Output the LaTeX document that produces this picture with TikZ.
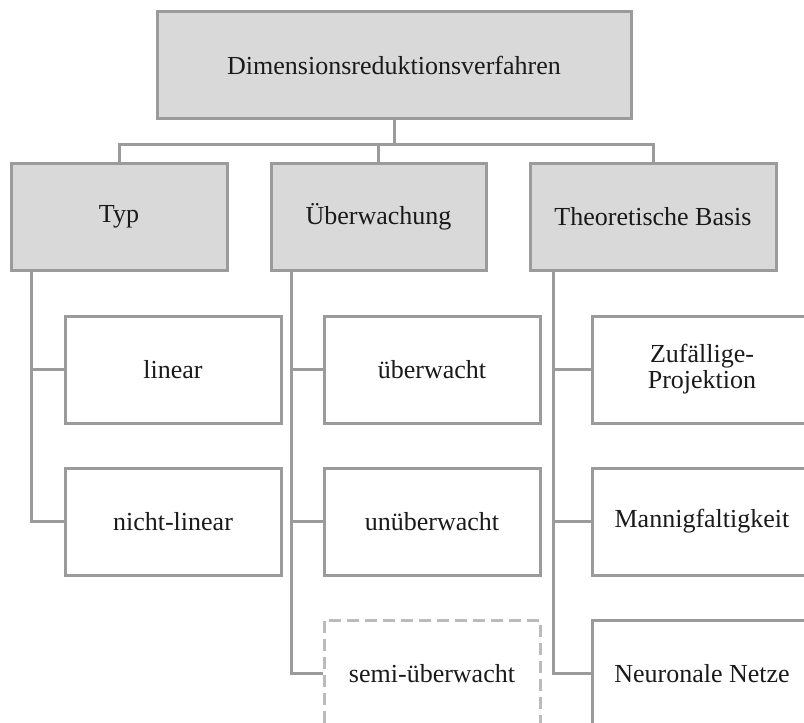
\documentclass[tikz,border=0pt]{standalone}
\usepackage{fontspec}
\setmainfont{Liberation Serif}
\usetikzlibrary{calc}
\definecolor{boxline}{HTML}{9B9B9B}
\definecolor{boxfill}{HTML}{D9D9D9}
\definecolor{dashline}{HTML}{BBBBBB}
\definecolor{txt}{HTML}{1A1A1A}
\begin{document}
\begin{tikzpicture}[x=1pt,y=-1pt,
  every node/.style={font=\fontsize{26}{26}\selectfont, text=txt, align=center, inner sep=0pt},
  headbox/.style={draw=boxline, fill=boxfill, line width=3pt, minimum height=107pt},
  leafbox/.style={draw=boxline, fill=white, line width=3pt, minimum width=216pt, minimum height=107pt},
  openbox/.style={draw=dashline, fill=white, line width=3pt, dash pattern=on 12pt off 6pt, minimum width=216pt, minimum height=107pt},
  link/.style={draw=boxline, line width=3pt}]
\useasboundingbox (0,0) rectangle (804,723);
\clip (0,0) rectangle (804,723);

% root and the three criteria
\node[headbox, minimum width=474pt] (root) at (394,65) {Dimensionsreduktionsverfahren};
\node[headbox, minimum width=216pt] (typ) at (119,216.5) {Typ};
\node[headbox, minimum width=215pt] (ueb) at (378.5,216.5) {Überwachung};
\node[headbox, minimum width=246pt] (theo) at (653,216.5) {Theoretische Basis};

% leaves
\node[leafbox] (lin) at (173,369.5) {linear};
\node[leafbox] (nlin) at (173,521.5) {nicht-linear};
\node[leafbox] (sup) at (432,369.5) {überwacht};
\node[leafbox] (unsup) at (432,521.5) {unüberwacht};
\node[openbox] (semi) at (432,673.5) {semi-überwacht};
\node[leafbox, minimum width=220pt] (rand) at (702,369.5) {Zufällige-\\Projektion};
\node[leafbox, minimum width=220pt] (mani) at (702,521.5) {Mannigfaltigkeit};
\node[leafbox, minimum width=220pt] (nn) at (702,673.5) {Neuronale Netze};

% root to criteria
\draw[link] (root.south) -- ++(0,24) coordinate (bus);
\draw[link] (typ.north) |- (bus) -| (theo.north);
\draw[link] (ueb.north) -- (ueb.north |- bus);

% criteria to leaves
\draw[link] ([xshift=22pt]typ.south west) coordinate (ta) |- (nlin.west);
\draw[link] (ta |- lin.west) -- (lin.west);
\draw[link] ([xshift=22pt]ueb.south west) coordinate (ua) |- (semi.west);
\draw[link] (ua |- sup.west) -- (sup.west);
\draw[link] (ua |- unsup.west) -- (unsup.west);
\draw[link] ([xshift=25pt]theo.south west) coordinate (ha) |- (nn.west);
\draw[link] (ha |- rand.west) -- (rand.west);
\draw[link] (ha |- mani.west) -- (mani.west);
\end{tikzpicture}
\end{document}
